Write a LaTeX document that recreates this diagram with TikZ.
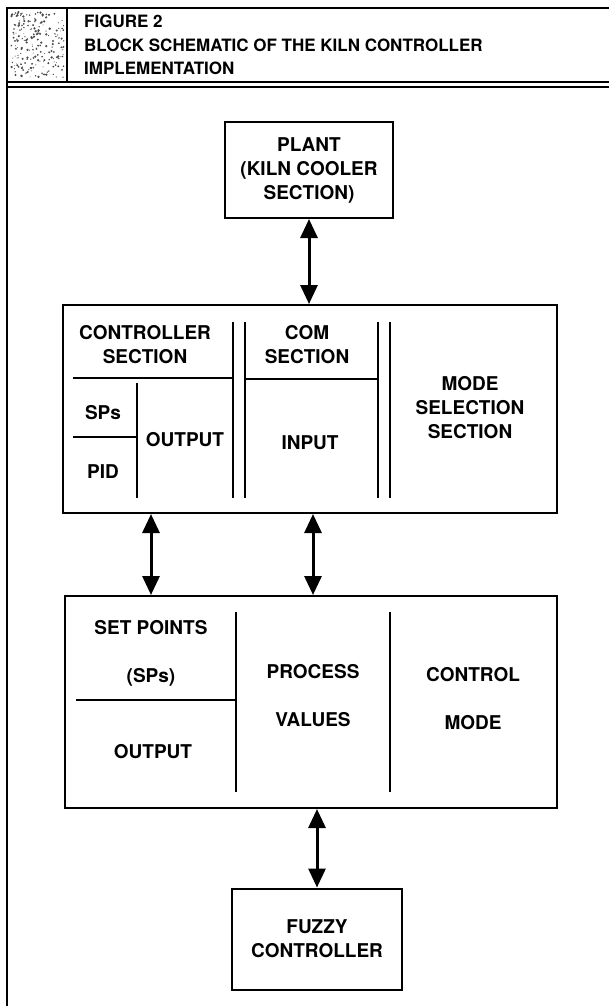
\documentclass[tikz,border=0pt]{standalone}
\usepackage{fontspec}
\setmainfont{TeX Gyre Heros}
\usetikzlibrary{arrows.meta}

\tikzset{
  block/.style={draw, line width=2pt, inner sep=0pt},
  label/.style={align=center, font=\fontsize{19}{24}\selectfont\bfseries},
  spread/.style={align=center, font=\fontsize{19}{48}\selectfont\bfseries},
  twoway/.style={line width=3pt, {Triangle[length=19pt,width=17pt]}-{Triangle[length=19pt,width=17pt]}},
  divider/.style={line width=1.4pt}
}

\begin{document}
\begin{tikzpicture}[x=1pt, y=-1pt]

    \useasboundingbox (0,0) rectangle (609,1006);

    % Draw the frame and the title strip
    \draw[line width=2pt] (7,1006) -- (7,8) -- (609,8);
    \draw[line width=2pt] (7,82) -- (609,82);
    \draw[line width=2pt] (7,87) -- (609,87);
    \draw[line width=2pt] (67,8) -- (67,82);

    % Seed for the speckled corner
    \pgfmathsetseed{42}
    \foreach \i in {1,...,220} {
        \pgfmathsetmacro{\x}{11 + rnd*53}
        \pgfmathsetmacro{\y}{12 + rnd*66}
        \pgfmathsetmacro{\r}{0.4 + rnd*0.9}
        \fill[gray!60!black] (\x,\y) circle (\r pt);
    }

    \node[anchor=north west, inner sep=0pt, align=left, font=\fontsize{17}{23.5}\selectfont\bfseries] (title) at (84,15)
        {FIGURE 2\\BLOCK SCHEMATIC OF THE KILN CONTROLLER\\IMPLEMENTATION};

    % Plant box
    \node[block, minimum width=168pt, minimum height=96pt, label] (plant) at (309,170)
        {PLANT\\(KILN COOLER\\SECTION)};

    % Controller box with its sections
    \node[block, minimum width=494pt, minimum height=208pt] (ctrl) at (310,409) {};
    \draw[divider] (73,378) -- (233,378);
    \draw[divider] (233,322) -- (233,498);
    \draw[divider] (245,322) -- (245,498);
    \draw[divider] (245,379) -- (377,379);
    \draw[divider] (378,322) -- (378,498);
    \draw[divider] (390,322) -- (390,498);
    \draw[divider] (137,383) -- (137,498);
    \draw[divider] (73,437) -- (137,437);

    \node[label] (ctrlsec) at (145,345) {CONTROLLER\\SECTION};
    \node[label] (comsec) at (307,345) {COM\\SECTION};
    \node[label] (sps) at (103,413) {SPs};
    \node[label] (pid) at (103,472) {PID};
    \node[label] (ctrlout) at (185,440) {OUTPUT};
    \node[label] (input) at (310,443) {INPUT};
    \node[label] (modesel) at (470,408) {MODE\\SELECTION\\SECTION};

    % Data box with its fields
    \node[block, minimum width=492pt, minimum height=212pt] (data) at (311,702) {};
    \draw[divider] (236,612) -- (236,792);
    \draw[divider] (390,612) -- (390,792);
    \draw[divider] (76,700) -- (236,700);

    \node[spread] (setpt) at (151,653) {SET POINTS\\(SPs)};
    \node[label] (dataout) at (153,752) {OUTPUT};
    \node[spread] (procval) at (313,696) {PROCESS\\VALUES};
    \node[spread] (ctrlmode) at (473,699) {CONTROL\\MODE};

    % Fuzzy controller box
    \node[block, minimum width=170pt, minimum height=101pt, label] (fuzzy) at (317,939)
        {FUZZY\\CONTROLLER};

    % Connectors
    \draw[twoway] (plant) -- (ctrl.north -| plant);
    \draw[twoway] (ctrl.south -| setpt) -- (data.north -| setpt);
    \draw[twoway] (ctrl.south -| procval) -- (data.north -| procval);
    \draw[twoway] (data.south -| fuzzy) -- (fuzzy);

\end{tikzpicture}
\end{document}
